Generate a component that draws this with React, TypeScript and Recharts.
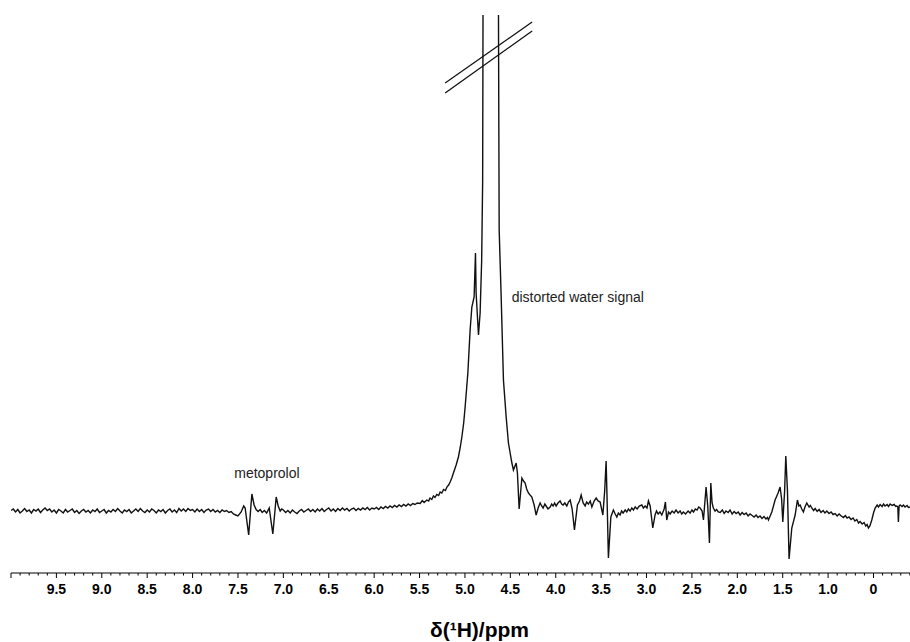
import { LineChart, Line, XAxis, YAxis, ReferenceLine, ReferenceDot } from "recharts";

// [ppm, intensity] (intensity in arbitrary units, baseline = 0)
const downfieldBaseline = [
  [10.0, 0.5], [9.975, 2], [9.95, -1], [9.925, 1.5], [9.9, -2], [9.875, 0], [9.85, 2.5], [9.825, -0.5],
  [9.8, 1], [9.775, -2], [9.75, 1.5], [9.725, 0], [9.7, 2], [9.675, -1.5], [9.65, 1], [9.625, 3],
  [9.6, 0.5], [9.575, 2], [9.55, -1], [9.525, 1], [9.5, -2], [9.475, 1.5], [9.45, 0], [9.425, -2],
  [9.4, 1.5], [9.375, -1], [9.35, 0.5], [9.325, 2], [9.3, -1.5], [9.275, 0.5], [9.25, -2.5], [9.225, 0],
  [9.2, 1.5], [9.175, -1], [9.15, 0.5], [9.125, -2], [9.1, 1], [9.075, -0.5], [9.05, 2], [9.025, -1.5],
  [9.0, 0], [8.975, 1.5], [8.95, -2], [8.925, 0.5], [8.9, -1], [8.875, 1.5], [8.85, -0.5], [8.825, 2.5],
  [8.8, 0], [8.775, -2], [8.75, 1], [8.725, -0.5], [8.7, 1.5], [8.675, -2], [8.65, 0], [8.625, 2],
  [8.6, -0.5], [8.575, 2.5], [8.55, 0], [8.525, -1.5], [8.5, 1], [8.475, -1], [8.45, 2], [8.425, 0.5],
  [8.4, -2], [8.375, 1], [8.35, -0.5], [8.325, 1.5], [8.3, -2], [8.275, 0.5], [8.25, 2], [8.225, -1],
  [8.2, 1], [8.175, -1.5], [8.15, 2.5], [8.125, 0], [8.1, 2], [8.075, -0.5], [8.05, 2.5], [8.025, 0.5],
  [8.0, 1.5], [7.975, -1], [7.95, 2], [7.925, -0.5], [7.9, 1.5], [7.875, -1.5], [7.85, 1], [7.825, 2],
  [7.8, -0.5], [7.775, 1.5], [7.75, -1], [7.725, 0.5], [7.7, -1.5], [7.675, 1], [7.65, -0.5],
  [7.625, 0.5], [7.6, -1.5], [7.575, -0.5], [7.55, -3],
];

const metoprololSignals = [
  [7.525, -4], [7.5, -5], [7.465, -1], [7.437, 5], [7.421, 3], [7.382, -24], [7.347, 17], [7.322, 6],
  [7.3, 1.5], [7.278, -0.5], [7.255, 1.5], [7.233, -1.5], [7.21, 0.5], [7.184, -2], [7.156, 3],
  [7.116, -23], [7.079, 14], [7.057, 5], [7.035, 0], [7.018, 2],
];

const midBaseline = [
  [7.0, 1], [6.975, -1.5], [6.95, 0.5], [6.925, -2], [6.9, 1], [6.875, -1], [6.85, -2.5], [6.825, 0],
  [6.8, 1.5], [6.775, -1], [6.75, 0.5], [6.725, 2], [6.7, -0.5], [6.675, 1.5], [6.65, -1], [6.625, 2],
  [6.6, 0], [6.575, 2.5], [6.55, -0.5], [6.525, 1.5], [6.5, 3], [6.475, 0], [6.45, 2], [6.425, -0.5],
  [6.4, 2.5], [6.375, 0.5], [6.35, 3], [6.325, 1], [6.3, 2.5], [6.275, 0], [6.25, 2], [6.225, 3],
  [6.2, 0.5], [6.175, 2.5], [6.15, 1], [6.125, 3], [6.1, 1.5], [6.075, 3.5], [6.05, 1], [6.025, 3],
  [6.0, 2], [5.975, 3.5], [5.95, 1.5], [5.925, 4], [5.9, 2.5], [5.875, 4.5], [5.85, 3], [5.825, 5],
  [5.8, 3.5], [5.775, 5.5], [5.75, 4], [5.725, 6], [5.7, 4.5], [5.675, 6.5], [5.65, 5], [5.625, 7],
  [5.6, 5.5], [5.575, 7.5], [5.55, 6.5], [5.525, 8],
];

const waterSignal = [
  [5.493, 7.5], [5.47, 10.5], [5.45, 8.5], [5.42, 11], [5.4, 10], [5.385, 13], [5.365, 11.5],
  [5.347, 15], [5.33, 13.5], [5.31, 16.5], [5.29, 15.5], [5.273, 19], [5.255, 18], [5.235, 21.5],
  [5.215, 20.5], [5.199, 24], [5.18, 26], [5.163, 29], [5.145, 33], [5.127, 38], [5.097, 46],
  [5.072, 54], [5.053, 63], [5.034, 74], [5.014, 88], [4.998, 104], [4.968, 138], [4.943, 181],
  [4.924, 204], [4.899, 214], [4.884, 258], [4.877, 218], [4.851, 176], [4.833, 198], [4.816, 250],
  [4.805, 330], [4.796, 700], [4.72, 2000], [4.638, 700], [4.623, 281], [4.601, 214], [4.576, 131],
  [4.546, 94], [4.521, 68], [4.483, 48], [4.466, 41], [4.436, 48], [4.422, 38], [4.403, 2],
  [4.373, 33], [4.355, 30], [4.337, 28], [4.32, 22], [4.301, 18], [4.283, 16], [4.263, 14],
  [4.238, 6], [4.216, -4], [4.194, 3], [4.172, 8],
];

const aliphaticRegion = [
  [4.155, 5], [4.139, 3], [4.12, 7], [4.106, 5], [4.085, 2], [4.062, 4], [4.045, 7], [4.029, 5],
  [4.012, 8], [3.996, 5], [3.975, 8], [3.952, 10], [3.935, 7], [3.919, 6], [3.9, 8], [3.878, 5],
  [3.86, 9], [3.841, 11], [3.819, 2], [3.794, -19], [3.761, 6], [3.738, 10], [3.72, 16], [3.698, 8],
  [3.676, 5], [3.66, 9], [3.64, 7], [3.62, 10], [3.602, 4], [3.577, 10], [3.555, 13], [3.533, 10],
  [3.511, 9], [3.481, -4], [3.461, 20], [3.445, 50], [3.434, 10], [3.42, -47], [3.393, -6],
  [3.365, 1], [3.345, -3], [3.327, -6], [3.31, -2], [3.291, -4], [3.275, 0], [3.258, -2], [3.235, 1],
  [3.217, -1], [3.2, 2], [3.181, 0], [3.162, 3], [3.144, 1], [3.125, 4], [3.103, 2], [3.08, 5],
  [3.052, 6], [3.035, 3], [3.015, 5], [2.995, 3], [2.979, 10], [2.96, 5], [2.931, -17], [2.906, -4],
  [2.89, 0], [2.872, -3], [2.852, -1], [2.832, -4], [2.806, 2], [2.792, 9], [2.777, -9], [2.758, -1],
  [2.74, -3], [2.718, 0], [2.696, -2], [2.675, 1], [2.652, -2], [2.63, 0], [2.612, -3], [2.594, -1],
  [2.57, -3], [2.542, 0], [2.52, -2], [2.5, 1], [2.483, -1], [2.462, 2], [2.443, 1], [2.425, 4],
  [2.41, 3], [2.388, 0], [2.373, -9], [2.344, 24], [2.325, 4], [2.307, -32], [2.292, 28], [2.278, 8],
  [2.264, 3], [2.245, 0], [2.228, 1.5],
];

const upfieldRegion = [
  [2.209, -1], [2.189, -1.5], [2.165, 1], [2.145, -2.5], [2.125, 0], [2.101, -1.5], [2.08, 1],
  [2.057, -3], [2.035, -0.5], [2.013, -2.5], [1.99, -1], [1.969, -4], [1.947, -1.5], [1.925, -3.5],
  [1.903, -2], [1.881, -5], [1.86, -3], [1.837, -4.5], [1.815, -6], [1.793, -4], [1.772, -6.5],
  [1.75, -5], [1.728, -7.5], [1.706, -5.5], [1.685, -8], [1.668, -6.5], [1.657, -9], [1.62, -1],
  [1.584, 11], [1.551, 18], [1.529, 24], [1.512, 12], [1.499, -11], [1.479, 20], [1.466, 55],
  [1.448, 21], [1.43, -48], [1.4, -17], [1.363, -4], [1.338, 11], [1.322, 5], [1.308, 6], [1.29, 2],
  [1.272, -1], [1.255, 4], [1.235, 8], [1.209, 4], [1.195, 5.5], [1.18, 3], [1.16, 0.5], [1.143, 2.5],
  [1.12, -0.5], [1.099, 1.5], [1.078, -1.5], [1.055, 0.5], [1.035, -2], [1.014, 0], [0.99, -2.5],
  [0.967, -1], [0.945, -3.5], [0.923, -2.5], [0.9, -5], [0.879, -3], [0.855, -5], [0.831, -6.5],
  [0.81, -4.5], [0.791, -7], [0.77, -6], [0.747, -8.5], [0.725, -7], [0.705, -10], [0.684, -8.5],
  [0.665, -12], [0.648, -10.5], [0.625, -13], [0.604, -11.5], [0.585, -15], [0.57, -13.5], [0.556, -17],
  [0.54, -15], [0.519, -9], [0.5, -2], [0.482, 3], [0.46, 6], [0.445, 4], [0.427, 6.5], [0.405, 4.5],
  [0.39, 7], [0.372, 5], [0.35, 6.5], [0.335, 4.5], [0.317, 7], [0.295, 5.5], [0.273, 6.5], [0.255, 4.5],
  [0.243, 5], [0.232, 4], [0.226, -11], [0.218, 5], [0.207, 6], [0.185, 4.5], [0.17, 6], [0.152, 4],
  [0.13, 5.5], [0.115, 3.5], [0.098, 4],
];

// labelled ticks (note: the reference labels the 0.5 ppm position "0")
const majorTicks = [10.0, 9.5, 9.0, 8.5, 8.0, 7.5, 7.0, 6.5, 6.0, 5.5, 5.0, 4.5, 4.0, 3.5, 3.0, 2.5, 2.0, 1.5, 1.0, 0.5];
const tickLabels = ["", "9.5", "9.0", "8.5", "8.0", "7.5", "7.0", "6.5", "6.0", "5.5", "5.0", "4.5", "4.0", "3.5", "3.0", "2.5", "2.0", "1.5", "1.0", "0"];
const allTicks = Array.from({ length: 100 }, (_, i) => (100 - i) / 10);

const spectrum = [
  ...downfieldBaseline,
  ...metoprololSignals,
  ...midBaseline,
  ...waterSignal,
  ...aliphaticRegion,
  ...upfieldRegion,
].map(([ppm, intensity]) => ({ ppm, intensity }));

const FONT = '"Liberation Sans", Arial, sans-serif';

const AxisTick = (props: any) => {
  const { x, y, payload } = props;
  const idx = majorTicks.findIndex((m) => Math.abs(m - payload.value) < 1e-6);
  const major = idx >= 0;
  return (
    <g>
      <line x1={x} x2={x} y1={y} y2={y + (major ? 5 : 2.5)} stroke="#000" strokeWidth={1} />
      {major && tickLabels[idx] !== "" && (
        <text x={x} y={y + 21} textAnchor="middle" fontSize={14} fontWeight="bold" fill="#000" fontFamily={FONT}>
          {tickLabels[idx]}
        </text>
      )}
    </g>
  );
};

export default function App() {
  return (
    <div style={{ position: "absolute", left: 0, top: 0, width: 910, height: 642, background: "#fff" }}>
      <LineChart
        width={910}
        height={642}
        data={spectrum}
        margin={{ top: 15, right: 0, left: 11, bottom: 0 }}
        style={{ fontFamily: FONT }}
      >
        <XAxis
          dataKey="ppm"
          type="number"
          domain={[0.098, 10]}
          reversed
          allowDataOverflow
          ticks={allTicks}
          interval={0}
          tick={<AxisTick />}
          tickLine={false}
          tickSize={0}
          tickMargin={0}
          axisLine={{ stroke: "#000", strokeWidth: 1 }}
          height={69}
          label={{
            value: "δ(¹H)/ppm",
            position: "insideBottom",
            offset: 5,
            dx: 19,
            fontSize: 21,
            fontWeight: "bold",
            fill: "#000",
          }}
        />
        <YAxis hide type="number" domain={[-62, 496]} allowDataOverflow />
        <Line
          type="linear"
          dataKey="intensity"
          stroke="#111"
          strokeWidth={1.4}
          dot={false}
          isAnimationActive={false}
        />
        <ReferenceLine segment={[{ x: 5.218, y: 428 }, { x: 4.26, y: 489 }]} stroke="#111" strokeWidth={1.3} />
        <ReferenceLine segment={[{ x: 5.218, y: 418 }, { x: 4.26, y: 480 }]} stroke="#111" strokeWidth={1.3} />
        <ReferenceDot
          x={7.181}
          y={38}
          r={0}
          fill="none"
          stroke="none"
          label={{ value: "metoprolol", position: "center", fontSize: 14, fill: "#222" }}
        />
        <ReferenceDot
          x={3.757}
          y={214}
          r={0}
          fill="none"
          stroke="none"
          label={{ value: "distorted water signal", position: "center", fontSize: 14, fill: "#222" }}
        />
      </LineChart>
    </div>
  );
}
